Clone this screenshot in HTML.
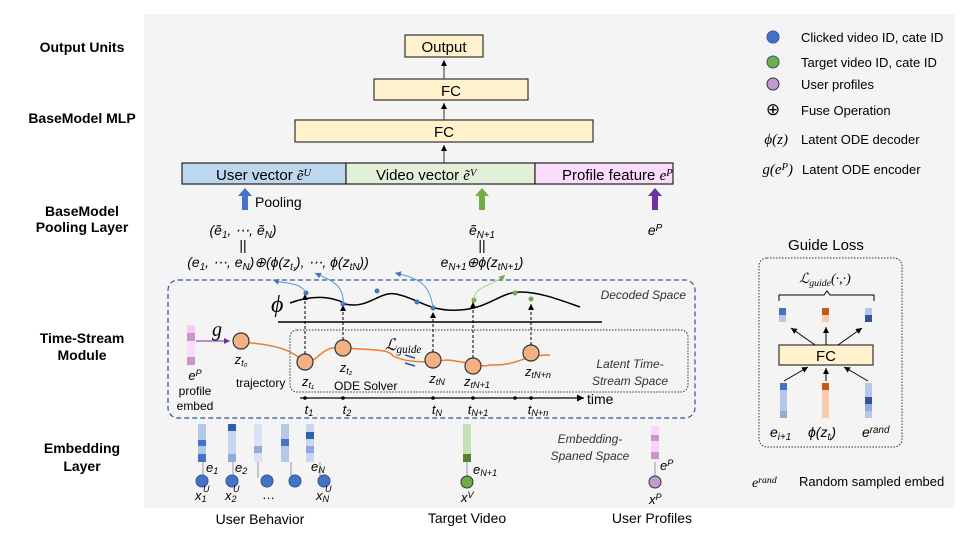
<!DOCTYPE html>
<html><head><meta charset="utf-8"><style>
body{margin:0;background:#fff}
svg{display:block}
text{font-family:"Liberation Sans",sans-serif}
.b{font-weight:bold;font-size:14px}
.m{font-family:"Liberation Serif",serif;font-style:italic}
.s{font-size:70%;baseline-shift:-25%}
.p{font-size:70%;baseline-shift:40%}
</style></head><body>
<svg width="969" height="545" viewBox="0 0 969 545">
<defs>
<marker id="ah" markerWidth="8" markerHeight="8" refX="6" refY="3" orient="auto"><path d="M0,0 L6,3 L0,6 z" fill="#000"/></marker>
<marker id="ahb" markerWidth="8" markerHeight="8" refX="6" refY="3" orient="auto"><path d="M0,0 L6,3 L0,6 z" fill="#4472c4"/></marker>
<marker id="ahg" markerWidth="8" markerHeight="8" refX="6" refY="3" orient="auto"><path d="M0,0 L6,3 L0,6 z" fill="#70ad47"/></marker>
<marker id="ahp" markerWidth="8" markerHeight="8" refX="6" refY="3" orient="auto"><path d="M0,0 L6,3 L0,6 z" fill="#7030a0"/></marker>
</defs>
<rect x="144" y="14" width="811" height="494" fill="#f4f4f4"/>
<g class="b" text-anchor="middle">
<text x="82" y="52">Output Units</text>
<text x="82" y="123">BaseModel MLP</text>
<text x="82" y="216">BaseModel</text><text x="82" y="232">Pooling Layer</text>
<text x="82" y="343">Time-Stream</text><text x="82" y="360">Module</text>
<text x="82" y="453">Embedding</text><text x="82" y="471">Layer</text>
</g>
<rect x="405" y="35" width="78" height="22" fill="#fff2cc" stroke="#333" stroke-width="1.2"/>
<text x="444" y="52" text-anchor="middle" font-size="15">Output</text>
<rect x="374" y="79" width="154" height="21" fill="#fff2cc" stroke="#333" stroke-width="1.2"/>
<text x="451" y="96" text-anchor="middle" font-size="15">FC</text>
<rect x="295" y="120" width="298" height="22" fill="#fff2cc" stroke="#333" stroke-width="1.2"/>
<text x="444" y="137" text-anchor="middle" font-size="15">FC</text>
<line x1="444" y1="163" x2="444" y2="145" stroke="#333" marker-end="url(#ah)"/>
<line x1="444" y1="120" x2="444" y2="103" stroke="#333" marker-end="url(#ah)"/>
<line x1="444" y1="79" x2="444" y2="60" stroke="#333" marker-end="url(#ah)"/>
<rect x="182" y="163" width="164" height="21" fill="#bdd7ee" stroke="#222" stroke-width="1.2"/>
<rect x="346" y="163" width="189" height="21" fill="#e2f0d9" stroke="#222" stroke-width="1.2"/>
<rect x="535" y="163" width="138" height="21" fill="#fcdcfc" stroke="#222" stroke-width="1.2"/>
<text x="216" y="180" font-size="15">User vector <tspan class="m">ẽ<tspan class="p">U</tspan></tspan></text>
<text x="376" y="180" font-size="15">Video vector <tspan class="m">ẽ<tspan class="p">V</tspan></tspan></text>
<text x="562" y="180" font-size="15">Profile feature <tspan class="m">e<tspan class="p">P</tspan></tspan></text>
<path d="M242,210 v-14 h-4 l7,-8 l7,8 h-4 v14z" fill="#4472c4"/>
<text x="255" y="207" font-size="14">Pooling</text>
<path d="M479,210 v-14 h-4 l7,-8 l7,8 h-4 v14z" fill="#70ad47"/>
<path d="M652,210 v-14 h-4 l7,-8 l7,8 h-4 v14z" fill="#7030a0"/>
<g class="m" font-size="14" text-anchor="middle">
<text x="243" y="235">(ẽ<tspan class="s">1</tspan>, ⋯, ẽ<tspan class="s">N</tspan>)</text>
<text x="243" y="250" font-style="normal">||</text>
<text x="278" y="267">(e<tspan class="s">1</tspan>, ⋯, e<tspan class="s">N</tspan>)⊕(ϕ(z<tspan class="s">t₁</tspan>), ⋯, ϕ(z<tspan class="s">tN</tspan>))</text>
<text x="482" y="235">ẽ<tspan class="s">N+1</tspan></text>
<text x="482" y="250" font-style="normal">||</text>
<text x="482" y="267">e<tspan class="s">N+1</tspan>⊕ϕ(z<tspan class="s">tN+1</tspan>)</text>
<text x="655" y="235">e<tspan class="p">P</tspan></text>
</g>
<rect x="168" y="280" width="527" height="138" rx="10" fill="none" stroke="#2f5597" stroke-dasharray="5,3" stroke-width="1.2"/>
<path d="M290,303 C320,292 340,300 345,304 C370,310 380,288 400,295 C420,300 430,312 460,310 C490,308 500,292 520,292 C540,292 560,300 580,307" fill="none" stroke="#000" stroke-width="1.5"/>
<line x1="278" y1="322" x2="602" y2="322" stroke="#000" stroke-width="1.5"/>
<text x="271" y="312" class="m" font-size="24">ϕ</text>
<text x="686" y="299" text-anchor="end" font-size="12" font-style="italic" fill="#333">Decoded Space</text>
<rect x="290" y="330" width="398" height="62" rx="7" fill="none" stroke="#333" stroke-dasharray="1.5,1.5"/>
<text x="630" y="368" text-anchor="middle" font-size="12" font-style="italic" fill="#333">Latent Time-</text>
<text x="630" y="385" text-anchor="middle" font-size="12" font-style="italic" fill="#333">Stream Space</text>
<path d="M241,342 C280,345 290,350 305,362 C320,362 320,345 342,348 C380,350 390,350 393,356 C410,364 430,362 447,360 C470,362 480,368 490,365 C520,366 520,355 550,355" fill="none" stroke="#ed7d31" stroke-width="1.5"/>
<g fill="#f4b183" stroke="#333" stroke-width="1.2">
<circle cx="241" cy="341" r="8"/><circle cx="305" cy="362" r="8"/><circle cx="343" cy="348" r="8"/>
<circle cx="433" cy="360" r="8"/><circle cx="473" cy="366" r="8"/><circle cx="531" cy="353" r="8"/>
</g>
<g stroke="#000" stroke-dasharray="3,2">
<line x1="305" y1="354" x2="305" y2="294" marker-end="url(#ah)"/>
<line x1="343" y1="340" x2="343" y2="305" marker-end="url(#ah)"/>
<line x1="433" y1="352" x2="433" y2="312" marker-end="url(#ah)"/>
<line x1="473" y1="358" x2="473" y2="302" marker-end="url(#ah)"/>
<line x1="531" y1="345" x2="531" y2="304" marker-end="url(#ah)"/>
</g>
<g fill="#4472c4"><circle cx="306" cy="293" r="2.5"/><circle cx="343" cy="304" r="2.5"/><circle cx="377" cy="291" r="2.5"/><circle cx="417" cy="302" r="2.5"/><circle cx="433" cy="308" r="2.5"/></g>
<g fill="#70ad47"><circle cx="474" cy="300" r="2.5"/><circle cx="515" cy="293" r="2.5"/><circle cx="531" cy="299" r="2.5"/></g>
<g fill="none" stroke="#5b9bd5" stroke-width="1">
<path d="M306,293 C300,282 290,285 273,280" marker-end="url(#ahb)"/>
<path d="M343,304 C345,285 330,280 315,273" marker-end="url(#ahb)"/>
<path d="M433,308 C430,285 420,278 395,273" marker-end="url(#ahb)"/>
</g>
<path d="M474,300 C475,285 490,288 505,275" fill="none" stroke="#a9d18e" marker-end="url(#ahg)"/>
<rect x="187" y="325" width="8" height="8" fill="#f4ccf4"/><rect x="187" y="333" width="8" height="8" fill="#c896c8"/><rect x="187" y="341" width="8" height="8" fill="#f8dcf8"/><rect x="187" y="349" width="8" height="8" fill="#f8dcf8"/><rect x="187" y="357" width="8" height="8" fill="#c896c8"/>
<line x1="196" y1="341" x2="230" y2="341" stroke="#7030a0" marker-end="url(#ahp)"/>
<text x="212" y="336" class="m" font-size="20">g</text>
<g class="m" font-size="13" text-anchor="middle">
<text x="241" y="364">z<tspan class="s">t₀</tspan></text>
<text x="308" y="386">z<tspan class="s">t₁</tspan></text>
<text x="346" y="372">z<tspan class="s">t₂</tspan></text>
<text x="437" y="383">z<tspan class="s">tN</tspan></text>
<text x="477" y="386">z<tspan class="s">tN+1</tspan></text>
<text x="538" y="376">z<tspan class="s">tN+n</tspan></text>
<text x="195" y="380">e<tspan class="p">P</tspan></text>
</g>
<text x="385" y="350" class="m" font-size="16">ℒ<tspan class="s">guide</tspan></text>
<line x1="405" y1="355" x2="415" y2="358" stroke="#2f5597" stroke-width="1.5"/><line x1="405" y1="363" x2="415" y2="366" stroke="#2f5597" stroke-width="1.5"/>
<text x="195" y="395" text-anchor="middle" font-size="12">profile</text>
<text x="195" y="410" text-anchor="middle" font-size="12">embed</text>
<text x="236" y="387" font-size="12">trajectory</text>
<text x="334" y="390" font-size="12">ODE Solver</text>
<line x1="300" y1="398" x2="584" y2="398" stroke="#000" stroke-width="1.2" marker-end="url(#ah)"/>
<g fill="#000"><circle cx="305" cy="398" r="1.8"/><circle cx="343" cy="398" r="1.8"/><circle cx="433" cy="398" r="1.8"/><circle cx="473" cy="398" r="1.8"/><circle cx="515" cy="398" r="1.8"/><circle cx="531" cy="398" r="1.8"/></g>
<text x="587" y="404" font-size="14">time</text>
<g class="m" font-size="13" text-anchor="middle">
<text x="309" y="414">t<tspan class="s">1</tspan></text><text x="347" y="414">t<tspan class="s">2</tspan></text><text x="437" y="414">t<tspan class="s">N</tspan></text><text x="478" y="414">t<tspan class="s">N+1</tspan></text><text x="538" y="414">t<tspan class="s">N+n</tspan></text>
</g>
<g stroke="#999"><line x1="203" y1="462" x2="203" y2="478"/><line x1="233" y1="462" x2="233" y2="478"/><line x1="258" y1="462" x2="258" y2="478"/><line x1="291" y1="462" x2="291" y2="478"/><line x1="320" y1="462" x2="320" y2="478"/><line x1="467" y1="462" x2="467" y2="478"/><line x1="655" y1="462" x2="655" y2="478"/></g>
<g>
<rect x="198" y="424" width="8" height="38" fill="#b4c7e7"/><rect x="198" y="440" width="8" height="6" fill="#4472c4"/><rect x="198" y="454" width="8" height="8" fill="#4472c4"/>
<rect x="228" y="424" width="8" height="38" fill="#c9d6ef"/><rect x="228" y="424" width="8" height="7" fill="#2f5fb3"/><rect x="228" y="454" width="8" height="8" fill="#8faadc"/>
<rect x="254" y="424" width="8" height="38" fill="#dae3f3"/><rect x="254" y="446" width="8" height="7" fill="#8faadc"/>
<rect x="281" y="424" width="8" height="38" fill="#b4c7e7"/><rect x="281" y="439" width="8" height="7" fill="#4472c4"/>
<rect x="306" y="424" width="8" height="38" fill="#c9d6ef"/><rect x="306" y="432" width="8" height="7" fill="#2f5fb3"/><rect x="306" y="446" width="8" height="7" fill="#8faadc"/>
<rect x="463" y="424" width="8" height="38" fill="#c5e0b4"/><rect x="463" y="454" width="8" height="8" fill="#548235"/>
<rect x="651" y="426" width="8" height="34" fill="#fad2fa"/><rect x="651" y="435" width="8" height="6" fill="#c896c8"/><rect x="651" y="452" width="8" height="7" fill="#c896c8"/>
</g>
<g fill="#4472c4" stroke="#2f5597"><circle cx="202" cy="481" r="6"/><circle cx="232" cy="481" r="6"/><circle cx="267" cy="481" r="6"/><circle cx="295" cy="481" r="6"/><circle cx="324" cy="481" r="6"/></g>
<circle cx="467" cy="482" r="6" fill="#70ad47" stroke="#333"/>
<circle cx="655" cy="482" r="6" fill="#c39bd3" stroke="#333"/>
<g class="m" font-size="13">
<text x="206" y="472">e<tspan class="s">1</tspan></text><text x="235" y="472">e<tspan class="s">2</tspan></text><text x="311" y="471">e<tspan class="s">N</tspan></text><text x="473" y="474">e<tspan class="s">N+1</tspan></text><text x="660" y="470">e<tspan class="p">P</tspan></text>
<text x="195" y="500">x<tspan class="s">1</tspan></text><text x="203" y="492" font-size="9">U</text>
<text x="225" y="500">x<tspan class="s">2</tspan></text><text x="233" y="492" font-size="9">U</text>
<text x="316" y="500">x<tspan class="s">N</tspan></text><text x="325" y="492" font-size="9">U</text>
<text x="461" y="502">x<tspan class="p">V</tspan></text><text x="649" y="504">x<tspan class="p">P</tspan></text>
</g>
<text x="262" y="499" font-size="13">…</text>
<text x="590" y="443" text-anchor="middle" font-size="12" font-style="italic" fill="#333">Embedding-</text>
<text x="590" y="460" text-anchor="middle" font-size="12" font-style="italic" fill="#333">Spaned Space</text>
<text x="260" y="524" text-anchor="middle" font-size="14">User Behavior</text>
<text x="467" y="523" text-anchor="middle" font-size="14">Target Video</text>
<text x="652" y="523" text-anchor="middle" font-size="14">User Profiles</text>
<circle cx="773" cy="37" r="6" fill="#4472c4" stroke="#2f5597"/><text x="801" y="42" font-size="13">Clicked video ID, cate ID</text>
<circle cx="773" cy="62" r="6" fill="#70ad47" stroke="#2f5597"/><text x="801" y="67" font-size="13">Target video ID, cate ID</text>
<circle cx="773" cy="84" r="6" fill="#c39bd3" stroke="#333"/><text x="801" y="89" font-size="13">User profiles</text>
<text x="773" y="115" text-anchor="middle" font-size="17">⊕</text><text x="801" y="115" font-size="13">Fuse Operation</text>
<text x="788" y="144" text-anchor="end" class="m" font-size="15">ϕ(z)</text><text x="801" y="144" font-size="13">Latent ODE decoder</text>
<text x="793" y="174" text-anchor="end" class="m" font-size="15">g(e<tspan class="p">P</tspan>)</text><text x="802" y="174" font-size="13">Latent ODE encoder</text>
<text x="826" y="250" text-anchor="middle" font-size="15">Guide Loss</text>
<rect x="759" y="258" width="143" height="189" rx="8" fill="none" stroke="#333" stroke-dasharray="1.5,1.5"/>
<text x="825" y="283" text-anchor="middle" class="m" font-size="14">ℒ<tspan class="s">guide</tspan>(·,·)</text>
<path d="M779,301 v-6 h45 l3,-4 l3,4 h44 v6" fill="none" stroke="#000"/>
<rect x="779" y="308" width="7" height="7" fill="#4472c4"/><rect x="779" y="315" width="7" height="7" fill="#b4c7e7"/>
<rect x="822" y="308" width="7" height="7" fill="#c55a11"/><rect x="822" y="315" width="7" height="7" fill="#f8cbad"/>
<rect x="865" y="308" width="7" height="7" fill="#b4c7e7"/><rect x="865" y="315" width="7" height="7" fill="#2f5597"/>
<rect x="779" y="345" width="94" height="20" fill="#fff2cc" stroke="#333" stroke-width="1.2"/>
<text x="826" y="361" text-anchor="middle" font-size="15">FC</text>
<g stroke="#000"><line x1="815" y1="345" x2="791" y2="328" marker-end="url(#ah)"/><line x1="826" y1="345" x2="826" y2="327" marker-end="url(#ah)"/><line x1="838" y1="345" x2="862" y2="328" marker-end="url(#ah)"/>
<line x1="784" y1="381" x2="808" y2="367" marker-end="url(#ah)"/><line x1="826" y1="381" x2="826" y2="368" marker-end="url(#ah)"/><line x1="868" y1="381" x2="844" y2="367" marker-end="url(#ah)"/></g>
<rect x="780" y="383" width="7" height="7" fill="#4472c4"/><rect x="780" y="390" width="7" height="21" fill="#b4c7e7"/><rect x="780" y="411" width="7" height="7" fill="#8faadc"/>
<rect x="822" y="383" width="7" height="7" fill="#c55a11"/><rect x="822" y="390" width="7" height="28" fill="#f8cbad"/>
<rect x="865" y="383" width="7" height="35" fill="#b4c7e7"/><rect x="865" y="397" width="7" height="7" fill="#2f5597"/><rect x="865" y="404" width="7" height="7" fill="#8faadc"/>
<g class="m" font-size="14"><text x="770" y="437">e<tspan class="s">i+1</tspan></text><text x="808" y="437">ϕ(z<tspan class="s">tᵢ</tspan>)</text><text x="862" y="437">e<tspan class="p">rand</tspan></text></g>
<text x="752" y="487" class="m" font-size="14">e<tspan class="p">rand</tspan></text>
<text x="799" y="486" font-size="13">Random sampled embed</text>
</svg>
</body></html>
